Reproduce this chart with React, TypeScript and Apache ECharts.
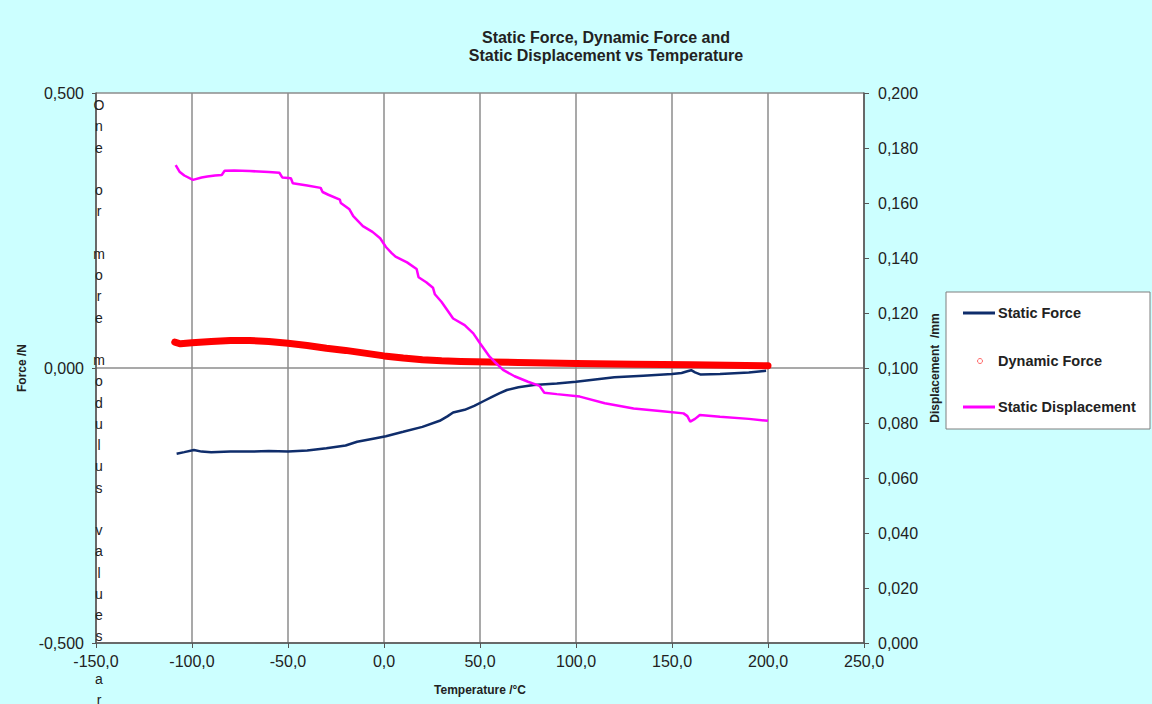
import { useEffect, useRef } from "react";
import * as echarts from "echarts";

// Titles and labels
const titleLines = ["Static Force, Dynamic Force and", "Static Displacement vs Temperature"];
const seriesNames = ["Static Force", "Dynamic Force", "Static Displacement"];
const overflowNote = "One or more modulus values ar";

// Static force (N) against temperature (°C)
const staticForceT = [-108, -104, -99, -95, -90, -80, -70, -60, -50, -40, -30, -20, -14, -5, 1, 10, 20, 29, 33, 36, 42, 47, 52, 56, 60, 64, 70, 78, 90, 100, 110, 120, 135, 150, 155, 158, 160, 162, 165, 175, 190, 199];
const staticForceN = [-0.156, -0.153, -0.149, -0.152, -0.153, -0.152, -0.152, -0.151, -0.152, -0.150, -0.146, -0.141, -0.134, -0.128, -0.124, -0.116, -0.107, -0.096, -0.088, -0.081, -0.076, -0.069, -0.060, -0.053, -0.046, -0.040, -0.035, -0.031, -0.028, -0.025, -0.021, -0.017, -0.014, -0.011, -0.009, -0.006, -0.004, -0.008, -0.012, -0.011, -0.008, -0.005];

// Dynamic force (N) against temperature (°C)
const dynamicForceT = [-109, -106, -100, -90, -80, -70, -60, -50, -40, -30, -20, -10, 0, 10, 20, 30, 40, 55, 70, 100, 130, 160, 200];
const dynamicForceN = [0.047, 0.044, 0.046, 0.048, 0.050, 0.050, 0.048, 0.045, 0.041, 0.036, 0.032, 0.027, 0.022, 0.018, 0.015, 0.013, 0.012, 0.011, 0.010, 0.008, 0.007, 0.006, 0.004];

// Static displacement (mm) against temperature (°C)
const staticDispT = [-108.5, -106.5, -104, -99.5, -95, -92, -88, -84.5, -83, -78, -70, -60, -54.5, -53, -48.5, -47.5, -40, -33, -32, -29, -23, -22.5, -18, -16, -11, -6, -2, 1, 4, 6, 12, 17, 18, 22, 25.5, 26.5, 30, 34, 36, 42, 46.5, 50, 55, 58, 62, 68, 75, 81, 83.5, 90, 102, 115, 130, 145, 156, 158, 159.5, 162, 164.5, 175, 190, 200];
const staticDispMm = [0.1738, 0.1714, 0.1700, 0.1684, 0.1693, 0.1696, 0.1700, 0.1702, 0.1717, 0.1718, 0.1716, 0.1713, 0.1710, 0.1693, 0.1690, 0.1672, 0.1664, 0.1655, 0.1640, 0.1630, 0.1612, 0.1600, 0.1577, 0.1552, 0.1516, 0.1495, 0.1472, 0.1440, 0.1418, 0.1405, 0.1384, 0.1360, 0.1330, 0.1312, 0.1292, 0.1268, 0.1240, 0.1200, 0.1180, 0.1156, 0.1126, 0.1090, 0.1041, 0.1020, 0.0993, 0.0970, 0.0950, 0.0935, 0.0910, 0.0905, 0.0896, 0.0872, 0.0853, 0.0843, 0.0835, 0.0825, 0.0805, 0.0815, 0.0829, 0.0823, 0.0815, 0.0808];

const FONT = "'Liberation Sans', Arial, sans-serif";
const NAVY = "#0f2d6b";
const RED = "#ff0000";
const MAGENTA = "#ff00ff";
const GRID_GRAY = "#8c8c8c";
const AXIS_DARK = "#555555";
const TEXT = "#222222";

const pairs = (xs: number[], ys: number[]) => xs.map((x, i) => [x, ys[i]]);
const comma = (v: number, d: number) => v.toFixed(d).replace(".", ",");

export default function App() {
  const ref = useRef<HTMLDivElement>(null);

  useEffect(() => {
    if (!ref.current) return;
    const chart = echarts.init(ref.current, null, { renderer: "svg" });

    const legendTop = 292;
    const legendRows = [313, 361, 407];

    chart.setOption({
      animation: false,
      backgroundColor: "#ccffff",
      textStyle: { fontFamily: FONT },
      title: {
        text: titleLines.join("\n"),
        left: 601,
        top: 23,
        textAlign: "center",
        textStyle: { fontSize: 16, fontWeight: "bold", color: TEXT, lineHeight: 18, fontFamily: FONT },
      },
      grid: {
        left: 96,
        right: 288,
        top: 93,
        bottom: 61,
        show: true,
        backgroundColor: "#ffffff",
        borderWidth: 0,
      },
      xAxis: {
        type: "value",
        min: -150,
        max: 250,
        interval: 50,
        name: "Temperature /°C",
        nameLocation: "middle",
        nameGap: 41,
        nameTextStyle: { fontSize: 12, fontWeight: "bold", color: TEXT, fontFamily: FONT },
        axisLine: { onZero: false, lineStyle: { color: AXIS_DARK, width: 1.5 } },
        axisTick: { show: true, length: 5, inside: false, lineStyle: { color: AXIS_DARK } },
        axisLabel: { fontSize: 16, color: TEXT, margin: 10, formatter: (v: number) => comma(v, 1) },
        splitLine: { show: true, lineStyle: { color: GRID_GRAY, width: 1.5 } },
      },
      yAxis: [
        {
          type: "value",
          min: -0.5,
          max: 0.5,
          interval: 0.5,
          name: "Force /N",
          nameLocation: "middle",
          nameRotate: 90,
          nameGap: 58,
          nameTextStyle: { fontSize: 12, fontWeight: "bold", color: TEXT, fontFamily: FONT },
          axisLine: { show: true, onZero: false, lineStyle: { color: AXIS_DARK, width: 1.5 } },
          axisTick: { show: true, length: 4, lineStyle: { color: AXIS_DARK } },
          axisLabel: { fontSize: 16, color: TEXT, margin: 12, formatter: (v: number) => comma(v, 3) },
          splitLine: { show: true, lineStyle: { color: GRID_GRAY, width: 1.5 } },
        },
        {
          type: "value",
          min: 0,
          max: 0.2,
          interval: 0.02,
          position: "right",
          name: "Displacement  /mm",
          nameLocation: "middle",
          nameRotate: 90,
          nameGap: 57,
          nameTextStyle: { fontSize: 12, fontWeight: "bold", color: TEXT, fontFamily: FONT },
          axisLine: { show: true, onZero: false, lineStyle: { color: AXIS_DARK, width: 1.5 } },
          axisTick: { show: true, length: 5, lineStyle: { color: AXIS_DARK } },
          axisLabel: { fontSize: 16, color: TEXT, margin: 14, formatter: (v: number) => comma(v, 3) },
          splitLine: { show: false },
        },
      ],
      series: [
        {
          name: seriesNames[0],
          type: "line",
          yAxisIndex: 0,
          showSymbol: false,
          data: pairs(staticForceT, staticForceN),
          lineStyle: { color: NAVY, width: 2.5 },
          z: 3,
        },
        {
          name: seriesNames[1],
          type: "line",
          yAxisIndex: 0,
          showSymbol: false,
          data: pairs(dynamicForceT, dynamicForceN),
          lineStyle: { color: RED, width: 7, cap: "round", join: "round" },
          z: 4,
        },
        {
          name: seriesNames[2],
          type: "line",
          yAxisIndex: 1,
          showSymbol: false,
          data: pairs(staticDispT, staticDispMm),
          lineStyle: { color: MAGENTA, width: 2.5 },
          z: 5,
        },
      ],
      graphic: [
        {
          type: "text",
          z: 100,
          style: {
            text: overflowNote.split("").join("\n"),
            x: 99,
            y: 105 - 21.25 / 2,
            font: `14px ${FONT}`,
            lineHeight: 21.25,
            align: "center",
            verticalAlign: "top",
            fill: TEXT,
          },
        },
        {
          type: "rect",
          shape: { x: 946, y: legendTop, width: 204, height: 137 },
          style: { fill: "#ffffff", stroke: "#7f7f7f", lineWidth: 1 },
        },
        {
          type: "line",
          shape: { x1: 963, y1: legendRows[0], x2: 995, y2: legendRows[0] },
          style: { stroke: NAVY, lineWidth: 3 },
        },
        {
          type: "circle",
          shape: { cx: 980, cy: legendRows[1], r: 2.5 },
          style: { fill: "#ffffff", stroke: "#ff6666", lineWidth: 1 },
        },
        {
          type: "line",
          shape: { x1: 963, y1: legendRows[2], x2: 995, y2: legendRows[2] },
          style: { stroke: MAGENTA, lineWidth: 3 },
        },
        ...seriesNames.map((n, i) => ({
          type: "text",
          style: {
            text: n,
            x: 998,
            y: legendRows[i],
            font: `bold 14.5px ${FONT}`,
            verticalAlign: "middle",
            fill: TEXT,
          },
        })),
      ],
    });

    return () => chart.dispose();
  }, []);

  return (
    <div
      ref={ref}
      style={{ position: "fixed", left: 0, top: 0, width: 1152, height: 704 }}
    />
  );
}
